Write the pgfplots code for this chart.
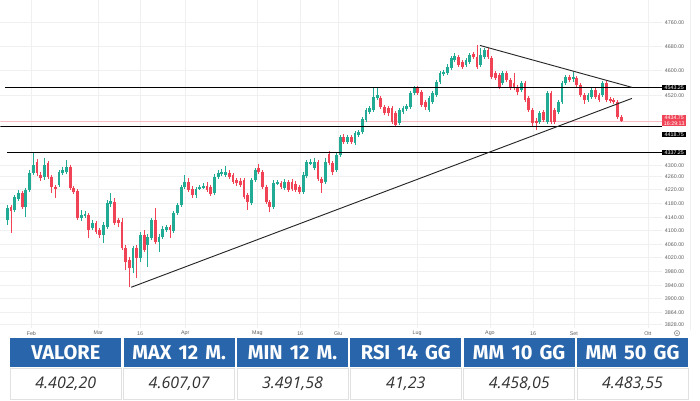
\documentclass[border=0pt]{standalone}
\usepackage{pgfplots}
\pgfplotsset{compat=1.18}
\usepackage{pgfplotstable}
\usepackage{fontspec}
\setmainfont{Liberation Sans}
\newfontfamily\headfont[WordSpace=1.5]{Fira Sans}
\newfontfamily\bodyfont{Open Sans}
\definecolor{up}{RGB}{34,171,148}
\definecolor{down}{RGB}{240,68,86}
\definecolor{hdr}{RGB}{41,101,170}
\definecolor{gridc}{RGB}{240,240,240}
\definecolor{lbl}{RGB}{95,95,95}
\definecolor{txt}{RGB}{50,50,50}
\definecolor{cellb}{RGB}{225,225,225}

\pgfplotstableread{
i o h l c
0 4122 4169 4106 4160
1 4163 4169 4080 4150
2 4153 4201 4147 4195
3 4188 4217 4182 4207
4 4207 4214 4156 4163
5 4163 4223 4131 4217
6 4217 4280 4210 4271
7 4271 4334 4264 4296
8 4305 4315 4261 4271
9 4264 4274 4245 4255
10 4258 4318 4248 4296
11 4302 4309 4252 4258
12 4258 4264 4207 4226
13 4226 4233 4191 4220
14 4233 4280 4226 4274
15 4271 4290 4264 4280
16 4274 4312 4267 4290
17 4290 4296 4217 4223
18 4223 4229 4204 4210
19 4214 4220 4122 4128
20 4128 4153 4118 4137
21 4134 4150 4128 4141
22 4137 4144 4065 4090
23 4096 4122 4090 4112
24 4112 4118 4077 4084
25 4090 4096 4065 4074
26 4074 4115 4049 4106
27 4099 4185 4093 4175
28 4172 4207 4163 4182
29 4179 4191 4106 4112
30 4122 4128 4099 4112
31 4115 4128 4027 4033
32 4033 4042 3963 3988
33 3995 4004 3909 3969
34 3969 4039 3954 4033
35 4033 4042 3938 4001
36 4001 4084 3988 4074
37 4074 4090 4020 4027
38 4042 4077 3973 4068
39 4065 4128 4058 4122
40 4122 4160 4046 4052
41 4052 4077 4020 4068
42 4068 4103 4061 4093
43 4090 4106 4084 4099
44 4099 4106 4065 4090
45 4087 4150 4080 4144
46 4144 4175 4137 4169
47 4169 4233 4163 4226
48 4226 4264 4220 4242
49 4242 4255 4210 4217
50 4220 4229 4191 4201
51 4201 4226 4191 4220
52 4220 4233 4217 4226
53 4226 4239 4220 4229
54 4229 4242 4210 4217
55 4226 4233 4198 4204
56 4207 4267 4201 4258
57 4258 4280 4252 4271
58 4267 4283 4261 4274
59 4264 4293 4258 4274
60 4271 4280 4252 4258
61 4264 4271 4236 4242
62 4248 4255 4229 4239
63 4245 4255 4226 4233
64 4248 4255 4188 4195
65 4201 4207 4153 4179
66 4175 4255 4169 4248
67 4248 4286 4242 4280
68 4286 4299 4267 4274
69 4274 4280 4220 4226
70 4226 4233 4172 4179
71 4179 4185 4147 4163
72 4163 4248 4156 4239
73 4239 4248 4233 4242
74 4239 4245 4220 4226
75 4223 4252 4217 4242
76 4242 4248 4210 4217
77 4242 4252 4214 4220
78 4236 4245 4210 4217
79 4226 4233 4204 4210
80 4210 4274 4204 4264
81 4261 4312 4255 4305
82 4302 4315 4296 4305
83 4286 4318 4280 4305
84 4305 4312 4245 4252
85 4252 4258 4207 4239
86 4242 4318 4236 4305
87 4331 4340 4296 4302
88 4302 4309 4264 4274
89 4280 4334 4274 4328
90 4328 4391 4321 4385
91 4385 4394 4363 4369
92 4369 4391 4363 4385
93 4385 4391 4363 4369
94 4366 4404 4359 4397
95 4391 4407 4385 4401
96 4401 4448 4394 4442
97 4439 4477 4432 4470
98 4464 4483 4458 4477
99 4470 4540 4464 4512
100 4508 4540 4502 4518
101 4508 4515 4473 4480
102 4480 4486 4454 4461
103 4477 4483 4451 4461
104 4477 4483 4426 4432
105 4461 4467 4416 4423
106 4429 4477 4423 4470
107 4464 4483 4458 4477
108 4473 4489 4467 4483
109 4480 4531 4473 4524
110 4524 4546 4518 4540
111 4540 4546 4518 4524
112 4527 4534 4480 4486
113 4496 4502 4470 4480
114 4470 4515 4464 4508
115 4496 4531 4489 4524
116 4518 4565 4512 4559
117 4559 4594 4553 4588
118 4584 4597 4578 4591
119 4588 4616 4581 4607
120 4603 4641 4597 4635
121 4629 4651 4622 4641
122 4638 4645 4607 4613
123 4622 4629 4600 4607
124 4613 4635 4607 4629
125 4622 4651 4616 4645
126 4648 4654 4632 4638
127 4638 4676 4600 4607
128 4613 4667 4607 4645
129 4638 4667 4632 4661
130 4661 4667 4632 4638
131 4635 4641 4569 4575
132 4588 4594 4565 4572
133 4581 4588 4537 4543
134 4556 4594 4550 4588
135 4588 4594 4559 4565
136 4565 4572 4534 4540
137 4556 4588 4534 4540
138 4543 4550 4518 4527
139 4534 4562 4527 4556
140 4556 4562 4496 4502
141 4508 4515 4464 4470
142 4470 4477 4420 4429
143 4435 4445 4407 4429
144 4432 4467 4426 4461
145 4464 4470 4432 4439
146 4432 4531 4426 4524
147 4524 4531 4426 4432
148 4470 4477 4426 4432
149 4464 4502 4458 4496
150 4496 4562 4489 4556
151 4556 4581 4550 4575
152 4575 4581 4559 4565
153 4569 4591 4559 4575
154 4572 4578 4543 4550
155 4550 4556 4512 4518
156 4518 4524 4489 4502
157 4502 4524 4496 4518
158 4512 4540 4505 4534
159 4534 4540 4505 4512
160 4518 4524 4496 4502
161 4518 4562 4512 4556
162 4556 4562 4496 4502
163 4505 4512 4492 4499
164 4502 4508 4489 4496
165 4496 4502 4442 4448
166 4448 4454 4432 4434.75
}\candles

\pgfplotsset{candle/.style={draw=none, mark=none, forget plot,
  error bars/y dir=both, error bars/y explicit, error bars/error mark=none}}

\begin{document}
\begin{tikzpicture}
\begin{scope}[x=0.75pt,y=-0.75pt]
\useasboundingbox (0,0) rectangle (700,400);
\end{scope}
\begin{axis}[
  at={(0pt,-246pt)}, anchor=south west,
  scale only axis, width=496.5pt, height=246pt,
  xmin=-1.89, xmax=177.03, ymin=3779.2, ymax=4819,
  axis line style={draw=none}, major tick length=0pt,
  grid=major, grid style={draw=gridc, line width=0.5pt},
  xtick={6.5,24.6,35.9,48.1,67.6,79.2,89.5,110.8,130.5,142.2,153.2,173.2},
  xticklabels={Feb,Mar,16,Apr,Mag,16,Giu,Lug,Ago,16,Set,Ott},
  xticklabel style={font=\fontsize{4}{5}\selectfont, text=lbl, anchor=center, yshift=-3.75pt},
  ytick={4749.3,4673.2,4597.1,4517.9,4296.0,4261.1,4219.9,4175.5,4131.1,4089.9,4045.5,4004.3,3959.9,3915.6,3874.3,3830.0,3791.9},
  yticklabels={4760.00,4680.00,4600.00,4520.00,4300.00,4260.00,4220.00,4180.00,4140.00,4100.00,4060.00,4020.00,3980.00,3940.00,3900.00,3864.00,3828.00},
  yticklabel pos=right,
  yticklabel style={font=\fontsize{4}{5}\selectfont, text=lbl, anchor=center, xshift=9.4pt},
  clip=true,
]
% current price line
\addplot[down!35, line width=0.4pt, forget plot] coordinates {(-1.89,4434.75) (177.03,4434.75)};
% wicks
\addplot[candle, error bars/error bar style={draw=up, line width=0.6pt}]
  table[x=i, y expr={\thisrow{c}>=\thisrow{o} ? (\thisrow{h}+\thisrow{l})/2 : nan},
        y error expr={(\thisrow{h}-\thisrow{l})/2}]{\candles};
\addplot[candle, error bars/error bar style={draw=down, line width=0.6pt}]
  table[x=i, y expr={\thisrow{c}<\thisrow{o} ? (\thisrow{h}+\thisrow{l})/2 : nan},
        y error expr={(\thisrow{h}-\thisrow{l})/2}]{\candles};
% bodies
\addplot[candle, error bars/error bar style={draw=up, line width=2.1pt}]
  table[x=i, y expr={\thisrow{c}>=\thisrow{o} ? (\thisrow{o}+\thisrow{c})/2 : nan},
        y error expr={max(abs(\thisrow{c}-\thisrow{o})/2,1.3)}]{\candles};
\addplot[candle, error bars/error bar style={draw=down, line width=2.1pt}]
  table[x=i, y expr={\thisrow{c}<\thisrow{o} ? (\thisrow{o}+\thisrow{c})/2 : nan},
        y error expr={max(abs(\thisrow{c}-\thisrow{o})/2,1.3)}]{\candles};
% horizontal levels
\addplot[black, line width=0.7pt, forget plot] coordinates {(-0.5,4543.25) (177.03,4543.25)};
\addplot[black, line width=0.7pt, forget plot] coordinates {(-1.89,4418.75) (177.03,4418.75)};
\addplot[black, line width=0.7pt, forget plot] coordinates {(0,4337.25) (177.03,4337.25)};
% trendlines
\addplot[black!85, line width=0.7pt, forget plot] coordinates {(33.5,3909) (168.9,4508)};
\addplot[black!85, line width=0.7pt, forget plot] coordinates {(127.8,4676) (168.9,4543)};
\end{axis}
\begin{scope}[x=0.75pt,y=-0.75pt]
\draw[gridc, line width=0.5pt] (690,0) -- (690,330);
\tikzset{pbox/.style={anchor=west, text=white, inner sep=0.6pt, minimum width=18pt,
  align=center, font=\fontsize{4}{4.6}\selectfont}}
\node[pbox, fill=black] at (662,87) {4543.25};
\node[pbox, fill=down] at (662,120) {4434.75\\16:29:13};
\node[pbox, fill=black] at (662,134) {4418.75};
\node[pbox, fill=black] at (662,152) {4337.25};
\draw[lbl!70, line width=0.5pt] (677,333) circle (2.6);
\fill[lbl!70] (677,333) circle (0.9);
\foreach \k/\h/\v in {0/VALORE/{4.402,20},1/MAX 12 M./{4.607,07},2/MIN 12 M./{3.491,58},
  3/RSI 14 GG/{41,23},4/MM 10 GG/{4.458,05},5/MM 50 GG/{4.483,55}}{
  \pgfmathsetmacro\xx{10+113.4*\k}
  \fill[hdr] (\xx,338) rectangle ++(111,28.5);
  \node[text=white, font=\headfont\bfseries\fontsize{15}{17}\selectfont] at (\xx+55.5,352.5) {\h};
  \draw[cellb, fill=white, line width=0.5pt] (\xx,368) rectangle ++(111,31.6);
  \node[text=txt, font=\bodyfont\itshape\fontsize{12}{14}\selectfont] at (\xx+55.5,384) {\v};
}
\end{scope}
\end{tikzpicture}
\end{document}
